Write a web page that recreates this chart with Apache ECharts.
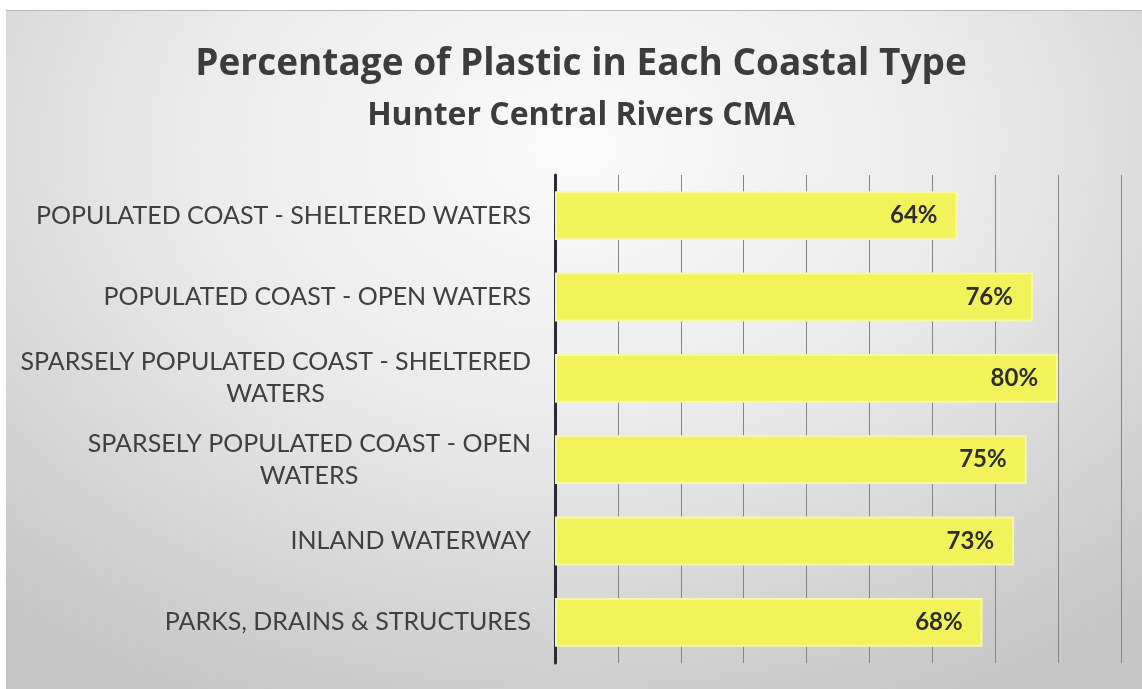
<!DOCTYPE html>
<html>
<head>
<meta charset="utf-8">
<script src="https://cdn.jsdelivr.net/npm/echarts@6/dist/echarts.min.js"></script>
<style>
  html, body { margin: 0; padding: 0; background: #ffffff; }
  #bg { position: absolute; left: 6px; top: 10px; width: 1136px; height: 679px;
        background: radial-gradient(ellipse 75% 90% at 50% 20%, #fbfbfb 0%, #ebebeb 45%, #c6c6c6 100%);
        border-top: 1px solid #b8b8b8; box-sizing: border-box; }
  #chart { position: absolute; left: 0; top: 0; width: 1142px; height: 689px; }
</style>
</head>
<body>
<div id="bg"></div>
<div id="chart"></div>
<script>
const titleText = 'Percentage of Plastic in Each Coastal Type';
const subtitleText = 'Hunter Central Rivers CMA';
const categories = [
  'POPULATED COAST - SHELTERED WATERS',
  'POPULATED COAST - OPEN WATERS',
  'SPARSELY POPULATED COAST - SHELTERED WATERS',
  'SPARSELY POPULATED COAST - OPEN WATERS',
  'INLAND WATERWAY',
  'PARKS, DRAINS & STRUCTURES'
];
const plasticPct = [64, 76, 80, 75, 73, 68];
const axisMin = 0, axisMax = 90, axisStep = 10;

const labelFont = 'Lato';
const labelSize = 25;
const measureCtx = document.createElement('canvas').getContext('2d');
measureCtx.font = labelSize + 'px ' + labelFont;

function wrapLabel(s) {
  if (s.length <= 36) return { text: s, width: 0 };
  const i = s.lastIndexOf(' ');
  const l1 = s.slice(0, i), l2 = s.slice(i + 1);
  return { l1: l1, l2: l2, width: Math.ceil(measureCtx.measureText(l1).width) };
}

const richStyles = {};
categories.forEach(function (c, i) {
  const w = wrapLabel(c);
  if (w.l1) richStyles['c' + i] = { width: w.width, align: 'center', fontFamily: labelFont,
    fontSize: labelSize, color: '#404040', lineHeight: 32 };
});

const chart = echarts.init(document.getElementById('chart'));
chart.setOption({
  backgroundColor: 'transparent',
  animation: false,
  title: [
    { text: titleText, left: 581, textAlign: 'center', top: 46, padding: 0,
      textStyle: { fontFamily: 'Open Sans', fontWeight: 'bold', fontSize: 37, color: '#3c3c3c' } },
    { text: subtitleText, left: 581, textAlign: 'center', top: 100, padding: 0,
      textStyle: { fontFamily: 'Open Sans', fontWeight: 'bold', fontSize: 32, color: '#3c3c3c' } }
  ],
  grid: { left: 555, right: 21, top: 175, bottom: 26, containLabel: false },
  xAxis: {
    type: 'value', min: axisMin, max: axisMax, interval: axisStep,
    axisLabel: { show: false }, axisTick: { show: false }, axisLine: { show: false },
    splitLine: { show: true, lineStyle: { color: '#858585', width: 1 } }
  },
  yAxis: {
    type: 'category', data: categories, inverse: true,
    axisTick: { show: false },
    axisLine: { show: true, lineStyle: { color: '#2a2a36', width: 3 } },
    axisLabel: {
      margin: 24, fontFamily: labelFont, fontSize: labelSize, color: '#404040',
      lineHeight: 32, align: 'right',
      formatter: function (v) {
        const w = wrapLabel(v);
        if (!w.l1) return v;
        return w.l1 + '\n{c' + categories.indexOf(v) + '|' + w.l2 + '}';
      },
      rich: richStyles
    }
  },
  series: [{
    type: 'bar', data: plasticPct, barCategoryGap: '40%',
    itemStyle: { color: '#F2F25A', borderColor: '#F7F7A8', borderWidth: 2 },
    label: {
      show: true, position: 'insideRight', distance: 20,
      formatter: '{c}%', fontFamily: 'Lato', fontWeight: 'bold', fontSize: 24, color: '#2e2e2e'
    }
  }]
});
</script>
</body>
</html>
